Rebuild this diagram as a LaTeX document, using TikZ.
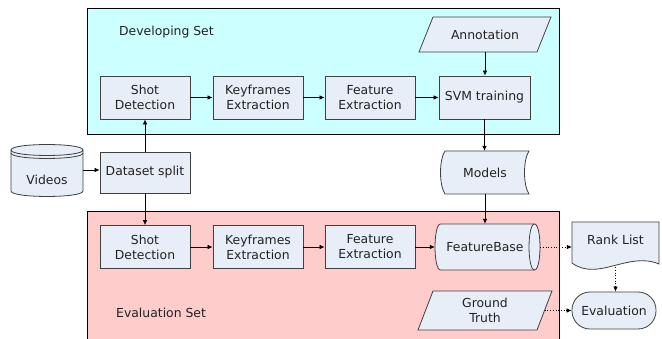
\documentclass[tikz,border=0pt]{standalone}
\usepackage{fontspec}
\setmainfont{DejaVu Sans}
\usetikzlibrary{arrows.meta}
\definecolor{devc}{HTML}{CCFFFF}
\definecolor{evac}{HTML}{FFCCCC}
\definecolor{nodec}{HTML}{E8EEF8}
\definecolor{linec}{HTML}{404040}
\definecolor{txtc}{HTML}{222222}
\begin{document}
\begin{tikzpicture}[x=1pt,y=-1pt,
  font=\fontsize{12.4}{15}\selectfont, text=txtc,
  box/.style={draw=linec, fill=nodec, minimum width=90pt, minimum height=43pt, align=center, inner sep=0pt, line width=0.8pt},
  ghost/.style={inner sep=0pt, align=center},
  shp/.style={draw=linec, fill=nodec, line width=0.8pt},
  arr/.style={-{Latex[length=5pt,width=4.5pt]}, line width=0.7pt},
  darr/.style={arr, dotted}]
\useasboundingbox (0,0) rectangle (662,339);
% group panels
\fill[devc] (87,8) rectangle (559,134);
\draw[line width=0.8pt] (87,8) rectangle (559,134);
\fill[evac] (87,211) rectangle (559,345);
\draw[line width=0.8pt] (87,345) -- (87,211) -- (559,211) -- (559,345);
\node[anchor=west, inner sep=0pt] (devlabel) at (119,32) {Developing Set};
\node[anchor=west, inner sep=0pt] (evallabel) at (116,313) {Evaluation Set};
% developing row
\node[box] (sd1) at (145,97.5) {Shot\\Detection};
\node[box] (kf1) at (258,97.5) {Keyframes\\Extraction};
\node[box] (fe1) at (370,97.5) {Feature\\Extraction};
\node[box, minimum width=91pt] (svm) at (484.5,97.5) {SVM training};
% annotation parallelogram
\filldraw[shp] (419,52) -- (433,17) -- (551,17) -- (537,52) -- cycle;
\node[ghost, minimum width=100pt, minimum height=35pt] (ann) at (485,34.5) {Annotation};
% videos drum
\filldraw[shp] (11,150) -- (11,191) .. controls (11,198.3) and (83,198.3) .. (83,191) -- (83,150) .. controls (83,142.7) and (11,142.7) .. (11,150) -- cycle;
\draw[linec, line width=0.8pt] (11,150) .. controls (11,157.3) and (83,157.3) .. (83,150);
\draw[linec, line width=0.8pt] (11,153) .. controls (11,160.3) and (83,160.3) .. (83,153);
\node[ghost, minimum width=72pt, minimum height=40pt] (vid) at (47,170) {};
\node[ghost] (vidtxt) at (47,180) {Videos};
% dataset split
\node[box, minimum height=41pt] (ds) at (145,172.5) {Dataset split};
% models (stored data)
\filldraw[shp] (445,151) -- (529,151) .. controls (523,160) and (523,185) .. (529,194) -- (445,194) .. controls (439,185) and (439,160) .. (445,151) -- cycle;
\node[ghost, minimum width=84pt, minimum height=43pt] (models) at (485,172.5) {Models};
% evaluation row
\node[box] (sd2) at (145,247) {Shot\\Detection};
\node[box] (kf2) at (258,247) {Keyframes\\Extraction};
\node[box] (fe2) at (370,247) {Feature\\Extraction};
% featurebase cylinder
\filldraw[shp] (440.5,224) -- (534.5,224) .. controls (541.8,224) and (541.8,270) .. (534.5,270) -- (440.5,270) .. controls (433.2,270) and (433.2,224) .. (440.5,224) -- cycle;
\draw[linec, line width=0.8pt] (534.5,224) .. controls (527.2,224) and (527.2,270) .. (534.5,270);
\node[ghost, minimum width=105pt, minimum height=46pt] (fb) at (487.5,247) {FeatureBase\hspace*{5pt}};
% rank list (document)
\filldraw[shp] (572,222) -- (659,222) -- (659,264) .. controls (628,251) and (598,282) .. (572,263) -- cycle;
\node[ghost, minimum width=87pt, minimum height=45pt] (rank) at (615.5,244.5) {};
\node[ghost] (ranktxt) at (615.5,240) {Rank List};
% ground truth parallelogram
\filldraw[shp] (418,330) -- (433,291) -- (552,291) -- (537,330) -- cycle;
\node[ghost, minimum width=119pt, minimum height=39pt] (gt) at (485,310.5) {Ground\\Truth};
% evaluation terminator
\node[box, rounded corners=18pt, minimum width=84pt, minimum height=37pt] (eval) at (614,310.5) {Evaluation};
% connectors
\draw[arr] (vid.east) -- (vid.east -| ds.west);
\draw[arr] (ds.north) -- (sd1.south);
\draw[arr] (ds.south) -- (sd2.north);
\draw[arr] (sd1) -- (kf1);
\draw[arr] (kf1) -- (fe1);
\draw[arr] (fe1) -- (svm);
\draw[arr] (ann.south) -- (ann.south |- svm.north);
\draw[arr] (svm.south) -- (svm.south |- models.north);
\draw[arr] (models.south) -- (models.south |- fb.north);
\draw[arr] (sd2) -- (kf2);
\draw[arr] (kf2) -- (fe2);
\draw[arr] (fe2) -- (fe2 -| fb.west);
\draw[darr] (fb.east) -- (fb.east -| rank.west);
\draw[darr] (rank.south) -- (rank.south |- eval.north);
\draw[darr] (gt.east) -- (gt.east -| eval.west);
\end{tikzpicture}
\end{document}
